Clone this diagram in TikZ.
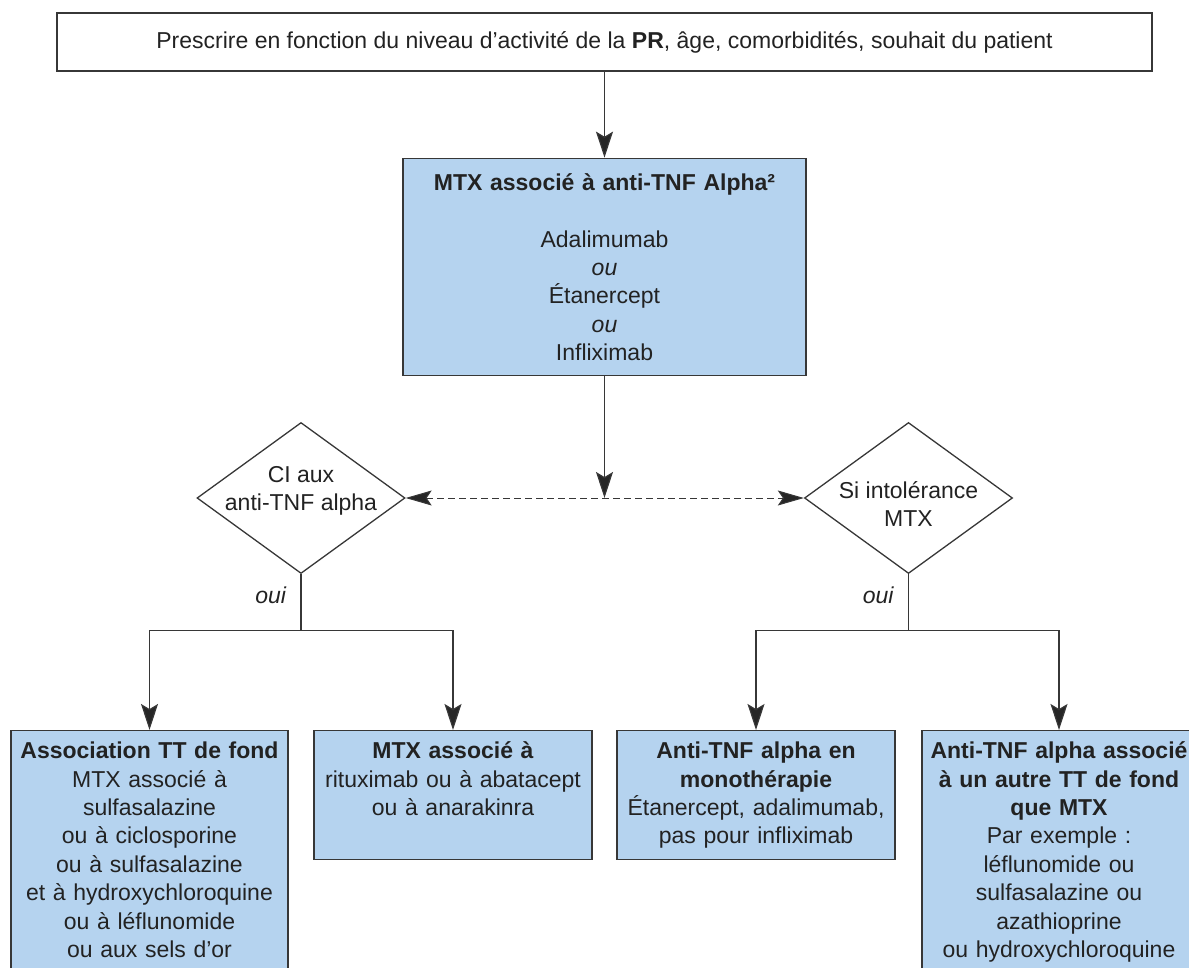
\documentclass[tikz,border=0pt]{standalone}
\usepackage{fontspec}
\setmainfont{Liberation Sans}
\usetikzlibrary{arrows.meta,positioning,shapes.geometric}
\definecolor{boxblue}{RGB}{181,211,239}
\definecolor{linegray}{RGB}{55,55,55}
\definecolor{textgray}{RGB}{34,34,34}

\begin{document}
\begin{tikzpicture}[
        x=1pt, y=-1pt,
        every node/.style={font=\fontsize{23pt}{28.4pt}\selectfont, text=textgray},
        box/.style={draw=linegray, line width=1.3pt},
        bluebox/.style={box, fill=boxblue, anchor=north, align=center, inner xsep=4pt, inner ysep=8pt, text height=20pt},
        decision/.style={box, diamond, minimum width=208pt, minimum height=151pt, inner sep=0pt},
        line/.style={draw=linegray, line width=1.2pt},
        arrow/.style={line, -{Stealth[length=26pt, width=17pt, inset=5pt, fill=black!85]}},
        dasharrow/.style={line, line width=1pt, dash pattern=on 7pt off 4pt,
            {Stealth[length=26pt, width=15pt, inset=5pt, fill=black!85]}-{Stealth[length=26pt, width=15pt, inset=5pt, fill=black!85]}}
    ]
        \useasboundingbox (0,0) rectangle (1189,968);

        \node[box, minimum width=1095pt, minimum height=58pt] (prescr) at (604.5,42)
            {Prescrire en fonction du niveau d’activité de la \textbf{PR}, âge, comorbidités, souhait du patient};
        \node[bluebox, text width=395pt, text height=24pt, text depth=177pt, below=86pt of prescr] (mtxtnf)
            {\textbf{MTX associé à anti-TNF Alpha²}\\[28.4pt] Adalimumab\\ \textit{ou}\\ Étanercept\\ \textit{ou}\\ Infliximab};

        % decisions
        \node[decision, label={[align=center, yshift=7pt]center:CI aux\\anti-TNF alpha}] (ci) at (301,498) {};
        \node[decision, label={[align=center, yshift=-6pt]center:Si intolérance\\MTX}] (intol) at (908.5,498) {};

        % treatments
        \node[bluebox, text width=269pt, text depth=260pt] (assoc) at (149.5,730)
            {\textbf{Association TT de fond}\\ MTX associé à\\ sulfasalazine\\ ou à ciclosporine\\ ou à sulfasalazine\\ et à hydroxychloroquine\\ ou à léflunomide\\ ou aux sels d’or};
        \node[bluebox, text width=270pt, text depth=93pt] (ritux) at (453,730)
            {\textbf{MTX associé à}\\ rituximab ou à abatacept\\ ou à anarakinra};
        \node[bluebox, text width=270pt, text depth=93pt] (mono) at (756,730)
            {\textbf{Anti-TNF alpha en}\\ \textbf{monothérapie}\\ Étanercept, adalimumab,\\ pas pour infliximab};
        \node[bluebox, text width=266pt, text depth=260pt] (autre) at (1059,730)
            {\textbf{Anti-TNF alpha associé}\\ \textbf{à un autre TT de fond}\\ \textbf{que MTX}\\ Par exemple :\\ léflunomide ou\\ sulfasalazine ou\\ azathioprine\\ ou hydroxychloroquine};

        \coordinate (hub) at (mtxtnf.south |- ci.east);
        \coordinate (lsplit) at ([yshift=-56pt]ci.south);
        \coordinate (rsplit) at ([yshift=-56pt]intol.south);

        \draw[arrow] (prescr) -- (mtxtnf);
        \draw[arrow] (mtxtnf) -- (hub);
        \draw[dasharrow] (ci.east) -- (intol.west);

        \draw[line] (ci.south) -- node[left=11pt, pos=0.38] {\itshape oui} (lsplit);
        \draw[arrow] (lsplit) -| (assoc);
        \draw[arrow] (lsplit) -| (ritux);

        \draw[line] (intol.south) -- node[left=11pt, pos=0.38] {\itshape oui} (rsplit);
        \draw[arrow] (rsplit) -| (mono);
        \draw[arrow] (rsplit) -| (autre);
    \end{tikzpicture}
\end{document}
